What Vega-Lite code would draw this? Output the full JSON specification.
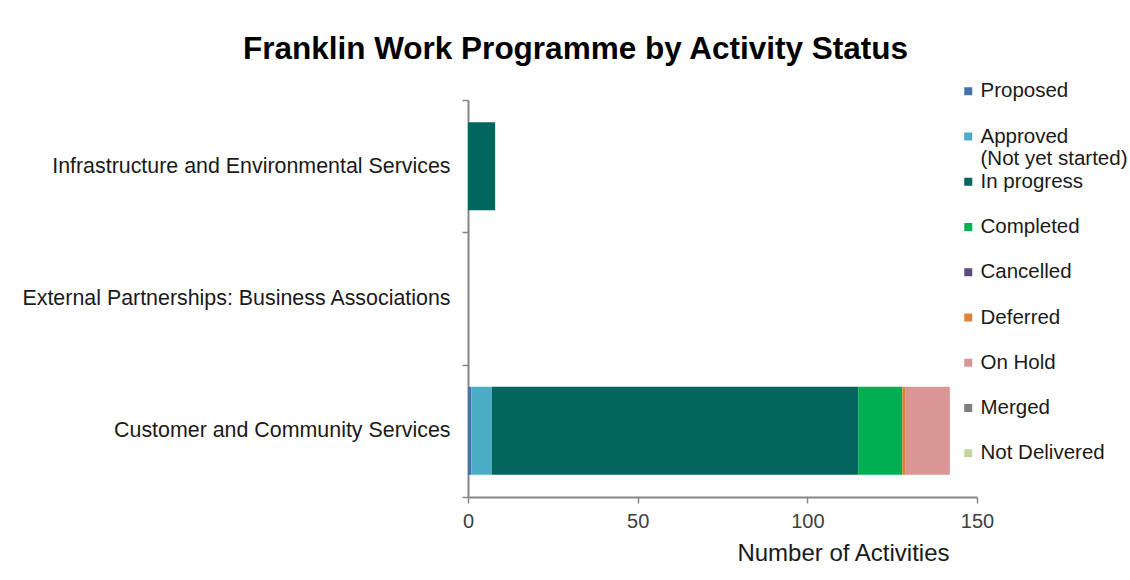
{
  "$schema": "https://vega.github.io/schema/vega-lite/v6.json",
  "autosize": "none",
  "width": 509,
  "height": 397,
  "padding": {"left": 468, "top": 100, "right": 153, "bottom": 83},
  "background": "white",
  "title": {
    "text": "Franklin Work Programme by Activity Status",
    "font": "Liberation Sans",
    "fontSize": 31.5,
    "fontWeight": "bold",
    "color": "#000000",
    "anchor": "middle",
    "frame": "group",
    "dx": -147,
    "offset": 36,
    "dy": 20
  },
  "data": {
    "values": [
      {"area": "Infrastructure and Environmental Services", "status": "In progress", "k": 3, "n": 8},
      {"area": "Customer and Community Services", "status": "Proposed", "k": 1, "n": 1},
      {"area": "Customer and Community Services", "status": "Approved (Not yet started)", "k": 2, "n": 6},
      {"area": "Customer and Community Services", "status": "In progress", "k": 3, "n": 108},
      {"area": "Customer and Community Services", "status": "Completed", "k": 4, "n": 13},
      {"area": "Customer and Community Services", "status": "Deferred", "k": 6, "n": 1},
      {"area": "Customer and Community Services", "status": "On Hold", "k": 7, "n": 13}
    ]
  },
  "mark": {"type": "bar", "strokeWidth": 0, "height": {"band": 0.665}},
  "encoding": {
    "y": {
      "field": "area",
      "type": "nominal",
      "sort": ["Infrastructure and Environmental Services", "External Partnerships: Business Associations", "Customer and Community Services"],
      "scale": {"domain": ["Infrastructure and Environmental Services", "External Partnerships: Business Associations", "Customer and Community Services"], "paddingInner": 0, "paddingOuter": 0},
      "axis": {
        "title": null,
        "tickBand": "extent",
        "labelFont": "Liberation Sans",
        "labelFontSize": 21.4,
        "labelColor": "#1a1a1a",
        "labelPadding": 12,
        "labelLimit": 500,
        "domainColor": "#868686",
        "domainWidth": 2,
        "tickColor": "#868686",
        "tickSize": 6,
        "tickWidth": 1.5
      }
    },
    "x": {
      "field": "n",
      "type": "quantitative",
      "stack": "zero",
      "scale": {"domain": [0, 150], "nice": false},
      "axis": {
        "values": [0, 50, 100, 150],
        "grid": false,
        "title": "Number of Activities",
        "titleFont": "Liberation Sans",
        "titleFontSize": 24,
        "titleFontWeight": "normal",
        "titleColor": "#1a1a1a",
        "titleAlign": "right",
        "titleBaseline": "alphabetic",
        "titleX": 481,
        "titleY": 63,
        "labelFont": "Liberation Sans",
        "labelFontSize": 20,
        "labelColor": "#404040",
        "labelPadding": 8,
        "labelFlush": false,
        "domainColor": "#868686",
        "domainWidth": 2,
        "tickColor": "#868686",
        "tickSize": 6,
        "tickWidth": 1.5
      }
    },
    "color": {
      "field": "status",
      "type": "nominal",
      "scale": {
        "domain": ["Proposed", "Approved (Not yet started)", "In progress", "Completed", "Cancelled", "Deferred", "On Hold", "Merged", "Not Delivered"],
        "range": ["#4674AA", "#4BACC6", "#02665F", "#00B050", "#604A7B", "#E0823A", "#D99694", "#7F7F7F", "#C3D69B"]
      },
      "legend": {
        "title": null,
        "orient": "none",
        "legendX": 490,
        "legendY": -19,
        "symbolType": "square",
        "symbolSize": 64,
        "symbolStrokeWidth": 0,
        "labelFont": "Liberation Sans",
        "labelFontSize": 20.5,
        "labelColor": "#1a1a1a",
        "labelOffset": 2,
        "labelLimit": 300,
        "rowPadding": 1.25,
        "labelExpr": "datum.label == 'Approved (Not yet started)' ? ['Approved', '(Not yet started)'] : [datum.label, ' ']"
      }
    },
    "order": {"field": "k", "type": "quantitative"}
  },
  "config": {
    "view": {"stroke": null}
  }
}
